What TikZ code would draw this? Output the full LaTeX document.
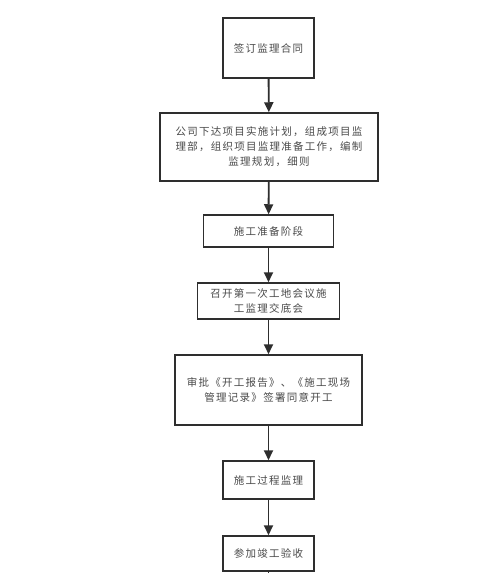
\documentclass[tikz,border=0pt]{standalone}
\usepackage{fontspec}
\newfontfamily\cjk{Noto Sans CJK SC}[LetterSpace=12]
\usetikzlibrary{arrows.meta}
\definecolor{txt}{HTML}{4A4A4A}
\definecolor{edge}{HTML}{2E2E2E}
\begin{document}
\begin{tikzpicture}[x=1pt,y=-1pt,
  box/.style={draw=edge,line width=1.5pt,rectangle,align=center,
    text=txt,font=\cjk\fontsize{10.5}{15}\selectfont,inner sep=0pt},
  flow/.style={draw=edge,line width=1.9pt,-{Triangle[length=10pt,width=9pt]}}]
\useasboundingbox[fill=white] (0,0) rectangle (496,573);
\node[box,minimum width=91pt,minimum height=60pt] (b1) at (268.5,48) {签订监理合同};
\node[box,minimum width=218pt,minimum height=68pt] (b2) at (269,147)
  {公司下达项目实施计划，组成项目监\\理部，组织项目监理准备工作，编制\\监理规划，细则};
\node[box,minimum width=130pt,minimum height=32pt] (b3) at (268.5,231) {施工准备阶段};
\node[box,minimum width=142pt,minimum height=36pt] (b4) at (268.5,301)
  {召开第一次工地会议施\\工监理交底会};
\node[box,minimum width=187pt,minimum height=70pt] (b5) at (268.5,390)
  {审批《开工报告》、《施工现场\\管理记录》签署同意开工};
\node[box,minimum width=91pt,minimum height=38pt] (b6) at (268.5,480) {施工过程监理};
\node[box,minimum width=91pt,minimum height=35pt] (b7) at (268.5,553.5) {参加竣工验收};
\coordinate (end) at (268.5,580);
\draw[flow] (b1) -- (b2);
\draw[flow] (b2) -- (b3);
\draw[flow] (b3) -- (b4);
\draw[flow] (b4) -- (b5);
\draw[flow] (b5) -- (b6);
\draw[flow] (b6) -- (b7);
\draw[draw=edge,line width=1.9pt] (b7) -- (end);
\end{tikzpicture}
\end{document}
